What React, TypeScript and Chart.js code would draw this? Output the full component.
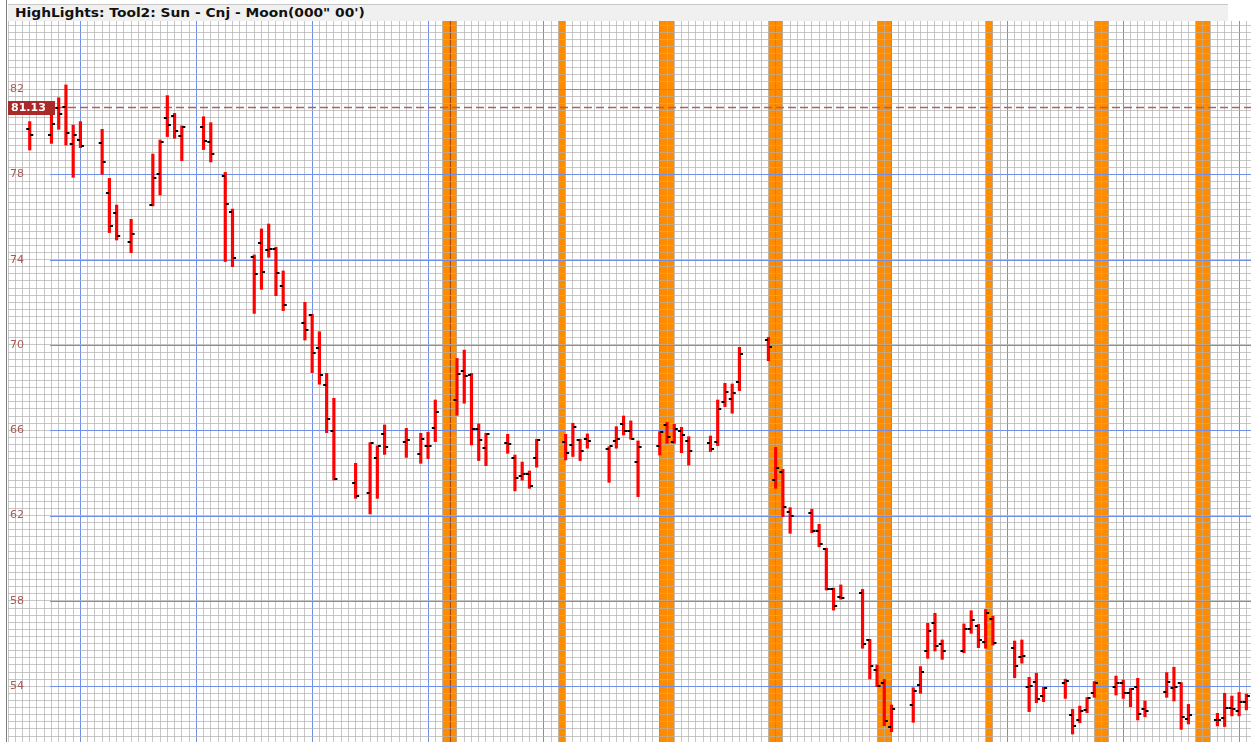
import React, { useEffect, useRef } from 'react';
import { Chart, registerables } from 'chart.js';

Chart.register(...registerables);

const chartTitle = 'HighLights: Tool2: Sun - Cnj - Moon(000" 00\')';

// trading-day slot of every bar (one grid column per calendar day)
const daySlots = [
  3, 6, 7, 8, 9, 10, 13, 14, 15, 17, 20, 21, 22, 23, 24, 27, 28, 30, 31,
  34, 35, 36, 37, 38, 41, 42, 43, 44, 45, 48, 50, 51, 52, 55, 57, 58, 59,
  62, 63, 64, 65, 66, 69, 70, 71, 72, 73, 77, 78, 79, 80, 83, 84, 85, 86, 87,
  90, 91, 92, 93, 94, 97, 98, 99, 100, 101, 105, 106, 107, 108,
  111, 112, 113, 114, 115, 118, 119, 120, 121, 122, 125, 126, 127, 128, 129,
  132, 133, 134, 135, 136, 139, 140, 141, 142, 143, 146, 147, 148, 149, 150,
  153, 154, 155, 156, 157, 160, 161, 162, 163, 167, 168, 169, 170, 171,
];
const opens = [
  80.14, 79.86, 81.09, 81.17, 79.41, 79.61, 79.48, 77.14, 76.19, 74.81, 76.55, 78.02, 80.64, 80.75, 79.78, 80.23, 79.5, 77.94, 76.22,
  74.14, 74.76, 74.45, 74.48, 72.76, 71.03, 71.41, 69.84, 68.12, 65.98, 63.55, 63.08, 64.69, 65.81, 65.47, 64.89, 65.28, 66.09,
  67.42, 68.8, 68.61, 66.06, 65.19, 65.39, 64.69, 63.84, 63.95, 64.69, 65.44, 65.31, 65.55, 65.59, 65.12, 65.48, 66.3, 65.98, 64.51,
  65.26, 66.26, 65.45, 65.98, 65.51, 65.39, 65.47, 67.34, 67.47, 68.27, 70.23, 63.67, 64.04, 62.19,
  62.14, 61.26, 60.44, 58.58, 58.2, 58.39, 56.17, 54.76, 54.17, 52.11, 53.12, 54.04, 55.64, 56.98, 55.97,
  55.64, 56.7, 56.84, 56.09, 57.14, 55.79, 55.36, 53.95, 54.18, 53.54, 54.17, 52.65, 52.42, 52.89, 53.67,
  53.95, 54.14, 53.7, 53.98, 52.93, 53.71, 53.93, 54.14, 52.47, 52.42, 52.53, 53.0, 52.86, 53.28,
];
const highs = [
  80.47, 80.86, 81.59, 82.19, 80.31, 80.47, 80.11, 77.81, 76.56, 75.89, 78.95, 79.61, 81.69, 80.86, 80.27, 80.7, 80.42, 78.09, 76.37,
  74.22, 75.44, 75.67, 74.58, 73.47, 72.0, 71.44, 70.62, 68.67, 67.5, 64.45, 65.42, 65.27, 66.25, 66.09, 65.86, 65.91, 67.42,
  69.37, 69.76, 68.67, 66.3, 65.86, 65.81, 64.84, 64.51, 64.09, 65.58, 65.81, 66.33, 65.58, 65.83, 65.23, 66.17, 66.67, 66.44, 65.5,
  65.94, 66.37, 66.28, 66.14, 65.7, 65.73, 67.42, 68.2, 68.17, 69.89, 70.36, 65.2, 64.17, 62.37,
  62.3, 61.59, 60.47, 58.6, 58.75, 58.54, 56.2, 55.0, 54.32, 53.12, 53.93, 54.92, 56.95, 57.42, 56.17,
  56.92, 57.54, 56.9, 57.6, 57.29, 56.12, 56.17, 54.42, 54.61, 53.95, 54.33, 52.92, 53.07, 53.47, 54.22,
  54.48, 54.29, 53.9, 54.37, 53.31, 54.64, 54.89, 54.17, 53.15, 52.73, 53.67, 53.54, 53.71, 53.64,
];
const lows = [
  79.14, 79.45, 80.11, 79.37, 77.86, 79.25, 78.0, 75.27, 74.92, 74.33, 76.52, 77.03, 79.77, 79.69, 78.64, 79.16, 78.58, 73.91, 73.67,
  71.48, 72.61, 74.11, 72.31, 71.61, 70.23, 68.7, 68.16, 65.89, 63.67, 62.81, 62.08, 62.81, 64.87, 64.73, 64.45, 64.67, 65.47,
  66.7, 67.27, 65.31, 64.58, 64.34, 64.92, 63.16, 63.66, 63.28, 64.27, 64.61, 64.77, 64.58, 65.16, 63.56, 65.16, 65.78, 65.58, 62.89,
  64.84, 65.39, 65.39, 64.95, 64.37, 65.0, 65.28, 67.11, 66.8, 67.86, 69.26, 63.28, 61.95, 61.17,
  61.2, 60.54, 58.51, 57.57, 58.08, 55.78, 54.34, 53.98, 52.15, 51.87, 52.31, 53.67, 55.31, 55.65, 55.26,
  55.57, 56.48, 55.81, 55.78, 55.93, 54.4, 55.08, 52.81, 53.23, 53.28, 53.43, 51.76, 52.29, 52.76, 53.48,
  53.59, 53.43, 53.04, 52.42, 52.57, 53.48, 53.31, 51.98, 52.23, 52.14, 52.11, 52.61, 52.61, 52.89,
];
const closes = [
  79.86, 80.36, 80.81, 79.95, 79.84, 79.34, 78.56, 75.58, 75.11, 75.19, 77.84, 79.53, 80.33, 80.03, 80.23, 79.56, 78.95, 76.61, 74.09,
  73.34, 73.42, 74.51, 73.37, 71.87, 70.7, 69.61, 68.59, 66.51, 63.7, 62.94, 65.42, 65.27, 65.23, 65.55, 65.61, 65.28, 66.86,
  68.64, 68.56, 66.06, 65.56, 65.84, 65.34, 63.78, 63.94, 63.41, 65.56, 64.94, 66.14, 65.02, 65.48, 65.26, 65.58, 65.98, 65.58, 65.23,
  65.94, 65.7, 66.04, 65.76, 65.01, 65.14, 67.01, 67.81, 67.73, 69.56, 69.89, 64.25, 62.39, 61.98,
  61.26, 60.69, 58.54, 57.75, 58.15, 55.97, 54.97, 54.01, 52.37, 52.93, 53.78, 54.68, 56.59, 55.89, 55.65,
  56.7, 57.11, 56.17, 57.45, 56.04, 54.97, 55.42, 54.03, 53.4, 53.92, 54.26, 52.14, 52.84, 53.43, 54.14,
  54.17, 53.7, 53.87, 52.7, 52.82, 54.2, 53.98, 52.54, 52.65, 52.42, 52.96, 52.92, 53.26, 53.54,
];

// highlighted (orange) day ranges
const highlightStarts = [60, 76, 90, 105, 120, 135, 150, 164];
const highlightEnds = [62, 77, 92, 107, 122, 136, 152, 166];
const markerSlots = [61];

const yTickLabels = [54, 58, 62, 66, 70, 74, 78, 82];
const lastPrice = 81.13;

const X_MIN = 0;
const X_MAX = 171.64;
const Y_MIN = 51.386;
const Y_MAX = 85.188;
const Y_MINOR_STEP = 1 / 3;
const X_MAJOR_EVERY = 16;
const X_MAJOR_OFFSET = 10;

const GRID_GREY = 'rgba(175,175,175,0.7)';
const GRID_BLUE = '#6e8fe8';
const ORANGE = '#ff8c00';
const LABEL_RED = '#a85a55';
const TAG_RED = '#aa2a2a';

function makeTick(side: 'open' | 'close') {
  const c = document.createElement('canvas');
  c.width = 9;
  c.height = 2;
  const g = c.getContext('2d')!;
  g.fillStyle = '#000';
  if (side === 'open') g.fillRect(1, 0, 3, 2);
  else g.fillRect(5, 0, 3, 2);
  return c;
}

const bandsPlugin = {
  id: 'bands',
  beforeDraw(chart: any) {
    const { ctx, chartArea } = chart;
    const x = chart.scales.x;
    ctx.save();
    ctx.fillStyle = ORANGE;
    highlightStarts.forEach((s, i) => {
      const a = x.getPixelForValue(s);
      const b = x.getPixelForValue(highlightEnds[i]);
      ctx.fillRect(a, chartArea.top, b - a, chartArea.bottom - chartArea.top);
    });
    ctx.strokeStyle = '#a8460e';
    ctx.lineWidth = 2;
    markerSlots.forEach((m) => {
      const px = Math.round(x.getPixelForValue(m));
      ctx.beginPath();
      ctx.moveTo(px, chartArea.top);
      ctx.lineTo(px, chartArea.bottom);
      ctx.stroke();
    });
    ctx.restore();
  },
};

const linesPlugin = {
  id: 'majorLines',
  beforeDatasetsDraw(chart: any) {
    const { ctx, chartArea } = chart;
    const y = chart.scales.y;
    ctx.save();
    ctx.strokeStyle = GRID_BLUE;
    ctx.lineWidth = 1;
    yTickLabels.forEach((v) => {
      const py = Math.round(y.getPixelForValue(v)) + 0.5;
      ctx.beginPath();
      ctx.moveTo(chartArea.left + 42, py);
      ctx.lineTo(chartArea.right, py);
      ctx.stroke();
    });
    const pp = y.getPixelForValue(lastPrice);
    ctx.strokeStyle = '#b06060';
    ctx.lineWidth = 1.5;
    ctx.setLineDash([8, 4]);
    ctx.beginPath();
    ctx.moveTo(chartArea.left + 48, pp);
    ctx.lineTo(chartArea.right, pp);
    ctx.stroke();
    ctx.restore();
  },
};

const tagPlugin = {
  id: 'priceTag',
  afterDatasetsDraw(chart: any) {
    const { ctx, chartArea } = chart;
    const y = chart.scales.y;
    const pp = y.getPixelForValue(lastPrice);
    ctx.save();
    ctx.fillStyle = TAG_RED;
    ctx.fillRect(chartArea.left - 1, Math.round(pp) - 7, 48, 14);
    ctx.fillStyle = '#ffffff';
    ctx.font = 'bold 11px "DejaVu Sans"';
    ctx.textBaseline = 'middle';
    ctx.textAlign = 'left';
    ctx.fillText(lastPrice.toFixed(2), chartArea.left + 3, Math.round(pp) + 0.5);
    ctx.restore();
  },
};

export default function App() {
  const ref = useRef<HTMLCanvasElement>(null);

  useEffect(() => {
    const canvas = ref.current;
    if (!canvas) return;
    const openImg = makeTick('open');
    const closeImg = makeTick('close');

    const chart = new Chart(canvas, {
      type: 'bar',
      data: {
        datasets: [
          {
            type: 'bar',
            data: daySlots.map((s, i) => ({ x: s, y: [lows[i], highs[i]] })),
            backgroundColor: '#ff0000',
            borderWidth: 0,
            barThickness: 2.5,
            order: 3,
          } as any,
          {
            type: 'scatter',
            data: daySlots.map((s, i) => ({ x: s, y: opens[i] })),
            pointStyle: openImg,
            pointRadius: 3,
            pointBorderWidth: 0,
            order: 1,
          } as any,
          {
            type: 'scatter',
            data: daySlots.map((s, i) => ({ x: s, y: closes[i] })),
            pointStyle: closeImg,
            pointRadius: 3,
            pointBorderWidth: 0,
            order: 2,
          } as any,
        ],
      },
      options: {
        responsive: false,
        animation: false,
        events: [],
        layout: { padding: 0, autoPadding: false },
        plugins: {
          legend: { display: false },
          tooltip: { enabled: false },
          title: { display: false },
        },
        scales: {
          x: {
            type: 'linear',
            min: X_MIN,
            max: X_MAX,
            offset: false,
            position: 'bottom',
            border: { display: false },
            ticks: { display: false },
            grid: {
              offset: false,
              drawTicks: false,
              lineWidth: 1,
              color: (c: any) =>
                c.tick && (Math.round(c.tick.value) - X_MAJOR_OFFSET) % X_MAJOR_EVERY === 0
                  ? GRID_BLUE
                  : GRID_GREY,
            },
            afterBuildTicks: (scale: any) => {
              const t = [];
              for (let v = Math.ceil(X_MIN); v <= X_MAX; v++) t.push({ value: v });
              scale.ticks = t;
            },
            afterFit: (scale: any) => {
              scale.height = 0;
              scale.paddingLeft = 0;
              scale.paddingRight = 0;
            },
          },
          y: {
            type: 'linear',
            min: Y_MIN,
            max: Y_MAX,
            position: 'left',
            border: { display: false },
            grid: { drawTicks: false, lineWidth: 1, color: GRID_GREY },
            ticks: {
              mirror: true,
              autoSkip: false,
              padding: 2,
              color: LABEL_RED,
              font: { family: '"DejaVu Sans"', size: 11 },
              callback: (v: any) => {
                const r = Math.round(v);
                return Math.abs(v - r) < 1e-6 && yTickLabels.includes(r) ? String(r) : '';
              },
            },
            afterBuildTicks: (scale: any) => {
              const t = [];
              for (let k = Math.ceil(Y_MIN / Y_MINOR_STEP); k * Y_MINOR_STEP <= Y_MAX; k++) {
                t.push({ value: k * Y_MINOR_STEP });
              }
              scale.ticks = t;
            },
            afterFit: (scale: any) => {
              scale.width = 0;
              scale.paddingTop = 0;
              scale.paddingBottom = 0;
            },
          },
        },
      } as any,
      plugins: [bandsPlugin, linesPlugin, tagPlugin],
    });
    return () => chart.destroy();
  }, []);

  return (
    <div
      style={{
        position: 'fixed',
        left: 0,
        top: 0,
        width: 1251,
        height: 742,
        background: '#ffffff',
        overflow: 'hidden',
      }}
    >
      <div style={{ position: 'absolute', left: 6, top: 0, width: 1, height: 742, background: '#7f7f7f' }} />
      <div
        style={{
          position: 'absolute',
          left: 8,
          top: 4,
          width: 1220,
          height: 17,
          background: '#f0f0f0',
          borderTop: '1px solid #c8c8c8',
          boxSizing: 'border-box',
        }}
      >
        <span
          style={{
            position: 'absolute',
            left: 7,
            top: 1,
            font: 'bold 12px "DejaVu Sans"',
            lineHeight: '14px',
            whiteSpace: 'nowrap',
            color: '#111111',
            transform: 'scaleX(1.15)',
            transformOrigin: 'left center',
          }}
        >
          {chartTitle}
        </span>
      </div>
      <canvas
        ref={ref}
        width={1243}
        height={721}
        style={{ position: 'absolute', left: 8, top: 21, width: 1243, height: 721 }}
      />
    </div>
  );
}
